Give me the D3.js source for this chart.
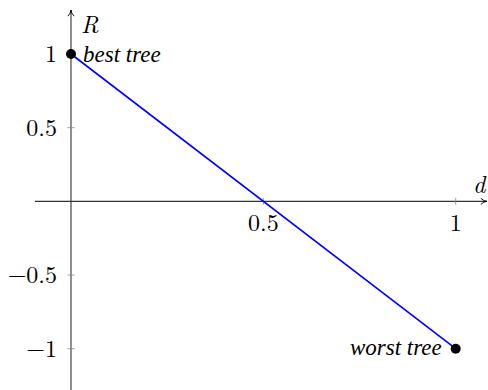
<!DOCTYPE html>
<html>
<head>
<meta charset="utf-8">
<script src="https://cdn.jsdelivr.net/npm/d3@7"></script>
<style>
  body { margin: 0; background: #fff; }
  svg { display: block; }
</style>
</head>
<body>
<svg id="chart" width="488" height="390"></svg>
<script>
// line data: distance d vs. R
const dValues = [0, 1];
const rValues = [1, -1];
const pointLabels = ['best tree', 'worst tree'];

// tick values
const xTicks = [0.5, 1];
const yTicks = [-1, -0.5, 0.5, 1];

const svg = d3.select('#chart');

// scales, fitted to the reference axes
const x = d3.scaleLinear().domain([0, 1]).range([71, 455.7]);
const y = d3.scaleLinear().domain([-1, 1]).range([348.7, 54]);

const axisColor = '#333';
const mathFont = "'Latin Modern Roman'";
const labelFont = "'Liberation Serif'";

// arrow marker
svg.append('defs').append('marker')
  .attr('id', 'arrow')
  .attr('viewBox', '0 0 10 10')
  .attr('refX', 9)
  .attr('refY', 5)
  .attr('markerWidth', 7)
  .attr('markerHeight', 7)
  .attr('orient', 'auto')
  .append('path')
  .attr('d', 'M1,1 Q5,5 9,5 Q5,5 1,9')
  .attr('fill', 'none')
  .attr('stroke', '#000')
  .attr('stroke-width', 1.2);

// x axis line through y=0
const xAxisG = svg.append('g').attr('transform', `translate(0,${y(0)})`);
xAxisG.append('line')
  .attr('x1', 35).attr('x2', 487)
  .attr('stroke', axisColor).attr('stroke-width', 1.1)
  .attr('marker-end', 'url(#arrow)');

xAxisG.selectAll('.xt')
  .data(xTicks)
  .enter()
  .append('line')
  .attr('x1', (d) => x(d)).attr('x2', (d) => x(d))
  .attr('y1', -3.5).attr('y2', 3.5)
  .attr('stroke', '#888').attr('stroke-width', 0.8);

xAxisG.selectAll('.xl')
  .data(xTicks)
  .enter()
  .append('text')
  .attr('x', (d) => x(d))
  .attr('y', 30)
  .attr('text-anchor', 'middle')
  .attr('font-family', mathFont)
  .attr('font-size', 24)
  .text((d) => String(d));

// y axis line through x=0
const yAxisG = svg.append('g').attr('transform', `translate(${x(0)},0)`);
yAxisG.append('line')
  .attr('y1', 390).attr('y2', 10)
  .attr('stroke', axisColor).attr('stroke-width', 1.1)
  .attr('marker-end', 'url(#arrow)');

yAxisG.selectAll('.yt')
  .data(yTicks)
  .enter()
  .append('line')
  .attr('y1', (d) => y(d)).attr('y2', (d) => y(d))
  .attr('x1', -3.5).attr('x2', 3.5)
  .attr('stroke', '#888').attr('stroke-width', 0.8);

yAxisG.selectAll('.yl')
  .data(yTicks)
  .enter()
  .append('text')
  .attr('x', -14)
  .attr('y', (d) => y(d) + 8)
  .attr('text-anchor', 'end')
  .attr('font-family', mathFont)
  .attr('font-size', 24)
  .text((d) => (d < 0 ? '\u2212' + Math.abs(d) : String(d)));

// axis names
svg.append('text')
  .attr('x', 81).attr('y', 33)
  .attr('font-family', mathFont).attr('font-style', 'italic')
  .attr('font-size', 24)
  .text('R');

svg.append('text')
  .attr('x', 473).attr('y', 193)
  .attr('font-family', mathFont).attr('font-style', 'italic')
  .attr('font-size', 24)
  .text('d');

// the line
const pts = dValues.map((d, i) => ({ d, r: rValues[i], label: pointLabels[i] }));

svg.append('path')
  .datum(pts)
  .attr('fill', 'none')
  .attr('stroke', '#0000ff')
  .attr('stroke-width', 1.6)
  .attr('d', d3.line().x((p) => x(p.d)).y((p) => y(p.r)));

// end points
svg.selectAll('circle')
  .data(pts)
  .enter()
  .append('circle')
  .attr('cx', (p) => x(p.d))
  .attr('cy', (p) => y(p.r))
  .attr('r', 5)
  .attr('fill', '#000');

// point labels
svg.selectAll('.pl')
  .data(pts)
  .enter()
  .append('text')
  .attr('x', (p) => x(p.d) + (p.r > 0 ? 12 : -14))
  .attr('y', (p) => y(p.r) + (p.r > 0 ? 8 : 6))
  .attr('text-anchor', (p) => (p.r > 0 ? 'start' : 'end'))
  .attr('font-family', labelFont)
  .attr('font-style', 'italic')
  .attr('font-size', 23)
  .text((p) => p.label);
</script>
</body>
</html>
